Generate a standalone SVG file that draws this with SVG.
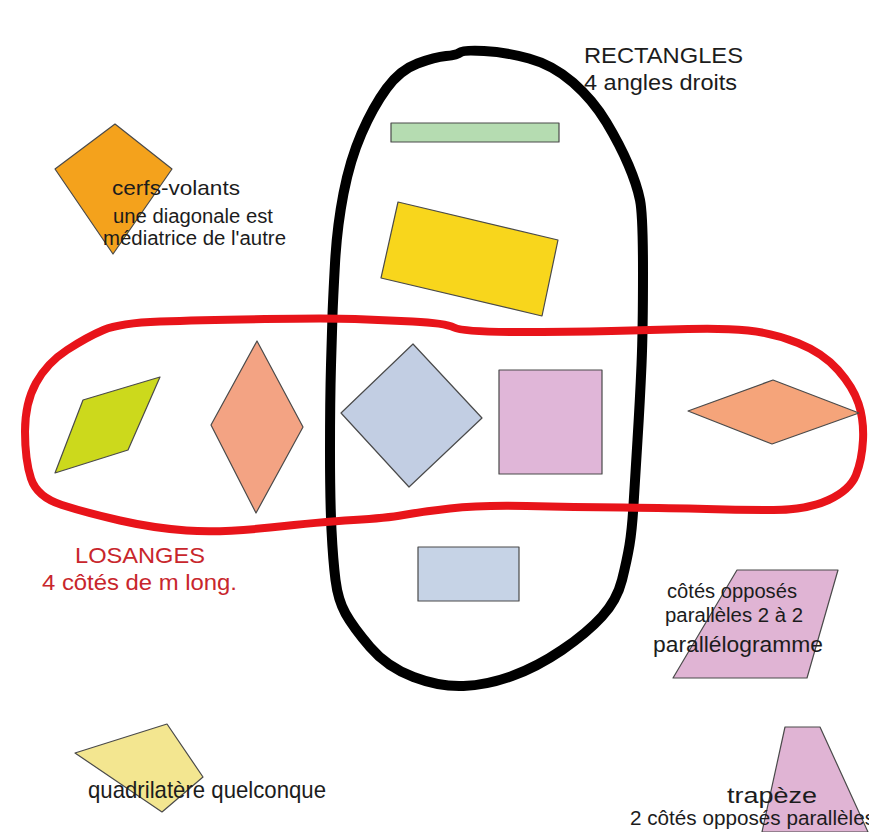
<svg xmlns="http://www.w3.org/2000/svg" width="869" height="832" viewBox="0 0 869 832">
<style>
.shape{stroke:#4a4a4a;stroke-width:1.2;stroke-linejoin:round}
.t{font-family:"Liberation Sans",Arial,sans-serif;fill:#1c1c1c}
.red{fill:#c8262c}
.loop{fill:none;stroke-linejoin:round;stroke-linecap:round}
</style>
<rect width="869" height="832" fill="#ffffff"/>
<g id="connectors">
<path id="rectangles-loop" class="loop" stroke="#000000" stroke-width="10" d="M460,52.5 Q463,50 484,51 Q505,52 529,58.5 Q553,65 573,82.5 Q593,100 606.5,122.5 Q620,145 628.5,165 Q637,185 640,200 Q643,215 643,272.5 Q643,330 641.5,365 Q640,400 637.5,440 Q635,480 633.5,505 Q632,530 629.5,545 Q627,560 622,580 Q617,600 602,616.5 Q587,633 562,650 Q537,667 512,676 Q487,685 463.5,686 Q440,687 413.5,677 Q387,667 370,647 Q353,627 345.5,613.5 Q338,600 335.5,580 Q333,560 331.5,530 Q330,500 330,450 Q330,400 331,365 Q332,330 332.5,315 Q333,300 335,263.5 Q337,227 343.5,193.5 Q350,160 361.5,133.5 Q373,107 386.5,88.5 Q400,70 417.5,63.5 Q435,57 446,56 Q457,55 460,52.5 Z"/>
<path id="losanges-loop" class="loop" stroke="#e8141a" stroke-width="8" d="M160,321.5 Q200,320 265,319 Q330,318 355,319 Q380,320 412.5,321.5 Q445,323 454,327.5 Q463,332 516.5,332 Q570,332 611.5,331 Q653,330 688,329 Q723,328 748,330.5 Q773,333 798,343 Q823,353 838,370 Q853,387 858.5,403.5 Q864,420 863,440 Q862,460 856,475 Q850,490 828.5,500 Q807,510 773.5,510 Q740,510 706.5,509 Q673,508 623,507.5 Q573,507 526.5,506 Q480,505 450,508.5 Q420,512 403.5,515 Q387,518 353.5,520 Q320,522 270,527.5 Q220,533 186.5,530.5 Q153,528 120,520.5 Q87,513 62,505 Q37,497 31,478.5 Q25,460 25,431.5 Q25,403 36,383 Q47,363 67,350 Q87,337 103.5,330 Q120,323 160,321.5 Z"/>
</g>
<g id="kite">
<polygon class="shape" fill="#f4a21c" points="115,124 172,169 113,254 55,169"/>
<text class="t" x="112" y="195" font-size="21" textLength="128" lengthAdjust="spacingAndGlyphs">cerfs-volants</text>
<text class="t" x="113" y="223" font-size="20" textLength="160" lengthAdjust="spacingAndGlyphs">une diagonale est</text>
<text class="t" x="103" y="245" font-size="20" textLength="183" lengthAdjust="spacingAndGlyphs">médiatrice de l'autre</text>
</g>
<g id="rectangles-label">
<text class="t" x="584" y="63" font-size="22" textLength="159" lengthAdjust="spacingAndGlyphs">RECTANGLES</text>
<text class="t" x="584" y="90" font-size="22" textLength="153" lengthAdjust="spacingAndGlyphs">4 angles droits</text>
</g>
<g id="green-rectangle"><rect class="shape" x="391" y="123" width="168" height="19" fill="#b5dcb1"/></g>
<g id="yellow-rectangle"><polygon class="shape" fill="#f8d61c" points="398,202 558,240 542,316 381,278"/></g>
<g id="lime-rhombus"><polygon class="shape" fill="#ccd91c" points="160,377 83,400 55,473 128,450"/></g>
<g id="salmon-rhombus"><polygon class="shape" fill="#f3a383" points="257,341 303,427 256,513 211,425"/></g>
<g id="blue-square"><polygon class="shape" fill="#c2cee3" points="413,344 482,418 409,487 341,413"/></g>
<g id="pink-square"><rect class="shape" x="499" y="370" width="103" height="104" fill="#e0b6d8"/></g>
<g id="salmon-rhombus-flat"><polygon class="shape" fill="#f5a47a" points="688,411 773,380 859,413 772,444"/></g>
<g id="blue-rectangle"><rect class="shape" x="418" y="547" width="101" height="54" fill="#c6d3e6"/></g>
<g id="losanges-label">
<text class="t red" x="75" y="563" font-size="22" textLength="130" lengthAdjust="spacingAndGlyphs">LOSANGES</text>
<text class="t red" x="42" y="590" font-size="22" textLength="195" lengthAdjust="spacingAndGlyphs">4 côtés de m long.</text>
</g>
<g id="parallelogram">
<polygon class="shape" fill="#e0b4d4" points="737,570 838,570 807,678 673,678"/>
<text class="t" x="667" y="598" font-size="20" textLength="130" lengthAdjust="spacingAndGlyphs">côtés opposés</text>
<text class="t" x="665" y="622" font-size="20" textLength="138" lengthAdjust="spacingAndGlyphs">parallèles 2 à 2</text>
<text class="t" x="653" y="652" font-size="22" textLength="170" lengthAdjust="spacingAndGlyphs">parallélogramme</text>
</g>
<g id="quadrilateral">
<polygon class="shape" fill="#f3e690" points="75,753 167,724 203,777 162,812"/>
<text class="t" x="88" y="798" font-size="24" textLength="238" lengthAdjust="spacingAndGlyphs">quadrilatère quelconque</text>
</g>
<g id="trapezoid">
<polygon class="shape" fill="#e0b4d4" points="785,727 820,727 868,832 762,832"/>
<text class="t" x="727" y="803" font-size="22" textLength="90" lengthAdjust="spacingAndGlyphs">trapèze</text>
<text class="t" x="630" y="825" font-size="20" textLength="245" lengthAdjust="spacingAndGlyphs">2 côtés opposés parallèles</text>
</g>
</svg>
